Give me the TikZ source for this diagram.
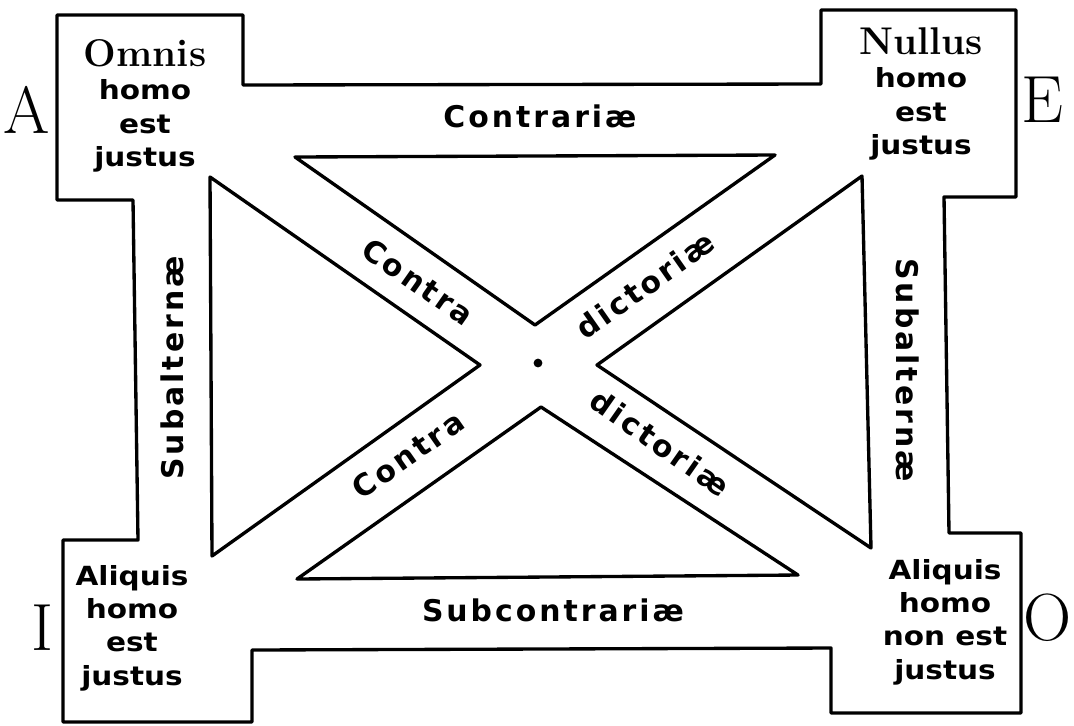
\documentclass[tikz,border=0pt]{standalone}
\usepackage{fontspec}
\setsansfont{DejaVu Sans}
\newfontfamily\spaced[LetterSpace=10]{DejaVu Sans Bold}
\newfontfamily\wide[FakeStretch=1.12]{DejaVu Sans Bold}
\usetikzlibrary{positioning}

\begin{document}
\begin{tikzpicture}[x=0.2mm, y=-0.2mm]
    % Define styles
    \tikzstyle{outline} = [line width=1.9pt, line join=round]
    \tikzstyle{letter} = [inner sep=0pt, font=\fontsize{38}{40}\selectfont]
    \tikzstyle{prop} = [align=center, inner sep=0pt, font=\wide\fontsize{15}{19}\selectfont]
    \tikzstyle{quant} = [inner sep=0pt, anchor=base, font=\rmfamily\bfseries\fontsize{22}{24}\selectfont]
    \tikzstyle{relation} = [inner sep=0pt, font=\spaced\fontsize{17}{19}\selectfont]
    \useasboundingbox (0,0) rectangle (1074,725);

    % Outline
    \draw [outline] (57,15) -- (243,15) -- (243,85) -- (821,84) -- (821,10)
        -- (1016,10) -- (1016,197) -- (944,197) -- (949,533) -- (1021,533)
        -- (1021,713) -- (831,713) -- (831,648) -- (252,650) -- (252,722)
        -- (63,722) -- (63,540) -- (138,540) -- (133,200) -- (57,200) -- cycle;

    % Triangles
    \draw [outline] (295,157) -- (775,155) -- (535,325) -- cycle;
    \draw [outline] (210,177) -- (480,365) -- (212,556) -- cycle;
    \draw [outline] (862,176) -- (871,548) -- (597,365) -- cycle;
    \draw [outline] (297,579) -- (541,407) -- (798,575) -- cycle;
    \fill (538,363) circle (2.5pt);

    % Corners
    \node [letter] (A) at (27,110) {A};
    \node [letter] (E) at (1042,100) {E};
    \node [letter] (I) at (42,628) {I};
    \node [letter] (O) at (1048,618) {O};

    \node [prop] (Aprop) at (145,106) {\tikz[baseline]\node[quant]{Omnis};\\homo\\est\\justus};
    \node [prop] (Eprop) at (921,94) {\tikz[baseline]\node[quant]{Nullus};\\homo\\est\\justus};
    \node [prop] (Iprop) at (132,628) {Aliquis\\homo\\est\\justus};
    \node [prop] (Oprop) at (945,622) {Aliquis\\homo\\non est\\justus};

    % Relations
    \node [relation] (contrariae) at (540,116) {Contrariæ};
    \node [relation] (subcontrariae) at (553,610) {Subcontrariæ};
    \node [relation, rotate=90] (subalternA) at (172,368) {Subalternæ};
    \node [relation, rotate=-90] (subalternE) at (908,370) {Subalternæ};
    \node [relation, rotate=-35] (contraU) at (418,282) {Contra};
    \node [relation, rotate=35] (dictoriaeU) at (645,285) {dictoriæ};
    \node [relation, rotate=35] (contraL) at (408,455) {Contra};
    \node [relation, rotate=-35] (dictoriaeL) at (660,443) {dictoriæ};
\end{tikzpicture}
\end{document}
